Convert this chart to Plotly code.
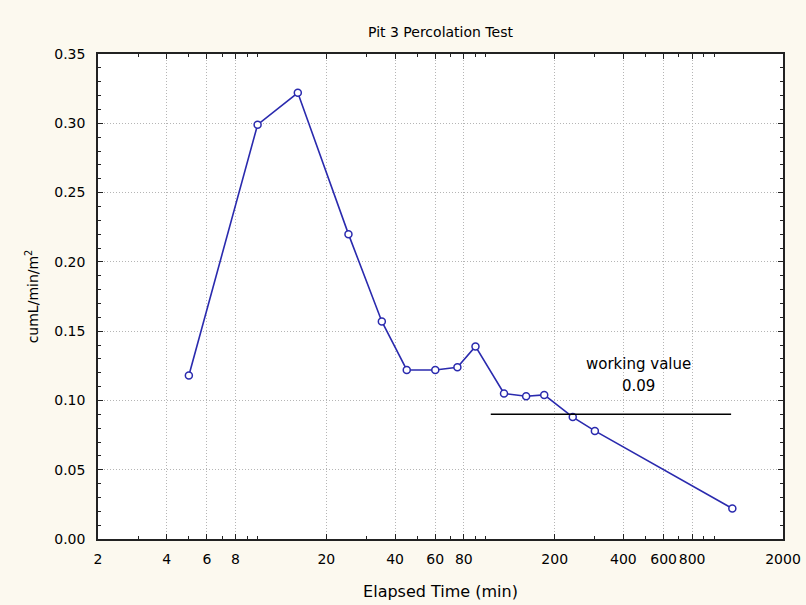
import math
import plotly.graph_objects as go

# Percolation readings: elapsed time (min) and cumulative rate (L/min/m^2)
elapsed_min = [5, 10, 15, 25, 35, 45, 60, 75, 90, 120, 150, 180, 240, 300, 1200]
rate = [0.118, 0.299, 0.322, 0.220, 0.157, 0.122, 0.122, 0.124, 0.139,
        0.105, 0.103, 0.104, 0.088, 0.078, 0.022]

# Working value reference line
working_value = 0.09
working_span = [105, 1185]
working_label_x = 465

# Axis ticks
x_tick_vals = [2, 4, 6, 8, 20, 40, 60, 80, 200, 400, 600, 800, 2000]
x_tick_text = ["2", "4", "6", "8", "20", "40", "60", "80", "200", "400", "600", "800", "2000"]
x_minor_vals = [3, 5, 7, 9, 10, 30, 50, 70, 90, 100, 300, 500, 700, 900, 1000]
x_range = [2, 2000]
y_range = [0, 0.35]

FONT = "DejaVu Sans"
PAPER = "#FCF9EF"
LINE_BLUE = "#2A2AAE"

fig = go.Figure()

fig.add_trace(go.Scatter(
    x=elapsed_min, y=rate,
    mode="lines+markers",
    line=dict(color=LINE_BLUE, width=1.6),
    marker=dict(symbol="circle", size=7, color="white",
                line=dict(color=LINE_BLUE, width=1.5)),
    showlegend=False,
    hoverinfo="x+y",
))

fig.add_trace(go.Scatter(
    x=working_span, y=[working_value, working_value],
    mode="lines",
    line=dict(color="black", width=1.5),
    showlegend=False,
    hoverinfo="skip",
))

# annotation x on a log axis is given in log10 units
label_font = dict(family=FONT, size=15, color="black")
fig.add_annotation(
    x=math.log10(working_label_x), y=working_value, xref="x", yref="y",
    text="working value", showarrow=False,
    yanchor="middle", yshift=50, font=label_font,
)
fig.add_annotation(
    x=math.log10(working_label_x), y=working_value, xref="x", yref="y",
    text=f"{working_value:.2f}", showarrow=False,
    yanchor="middle", yshift=28, font=label_font,
)

axis_common = dict(
    showline=True, linecolor="#222222", linewidth=1.5, mirror="allticks",
    ticks="inside", ticklen=5, tickcolor="#222222", tickwidth=1.3,
    showgrid=True, gridcolor="#B5B5B5", griddash="1px,2px", gridwidth=1,
    zeroline=False, automargin=False,
    tickfont=dict(family=FONT, size=14, color="black"),
)

fig.update_xaxes(
    type="log",
    range=[math.log10(x_range[0]) - 1e-6, math.log10(x_range[1]) + 1e-6],
    tickmode="array", tickvals=x_tick_vals, ticktext=x_tick_text,
    tickangle=0,
    minor=dict(tickvals=x_minor_vals, ticks="inside", ticklen=3,
               tickcolor="#222222", showgrid=False),
    ticklabelstandoff=6,
    title=dict(text="Elapsed Time (min)", standoff=20,
               font=dict(family=FONT, size=16, color="black")),
    **axis_common,
)

fig.update_yaxes(
    range=y_range,
    tickmode="linear", tick0=0, dtick=0.05, tickformat=".2f",
    minor=dict(dtick=0.01, ticks="inside", ticklen=3,
               tickcolor="#222222", showgrid=False),
    ticklabelstandoff=8,
    title=dict(text="cumL/min/m<sup>2</sup>", standoff=12,
               font=dict(family=FONT, size=14, color="black")),
    **axis_common,
)

fig.update_layout(
    width=806, height=605,
    paper_bgcolor=PAPER, plot_bgcolor="white",
    margin=dict(l=98, r=23, t=54, b=66),
    title=dict(text="Pit 3 Percolation Test", x=0.5, xref="paper", xanchor="center",
               y=1 - 32 / 605, yref="container", yanchor="middle",
               font=dict(family=FONT, size=14, color="black")),
)

fig.write_html("out.html")
